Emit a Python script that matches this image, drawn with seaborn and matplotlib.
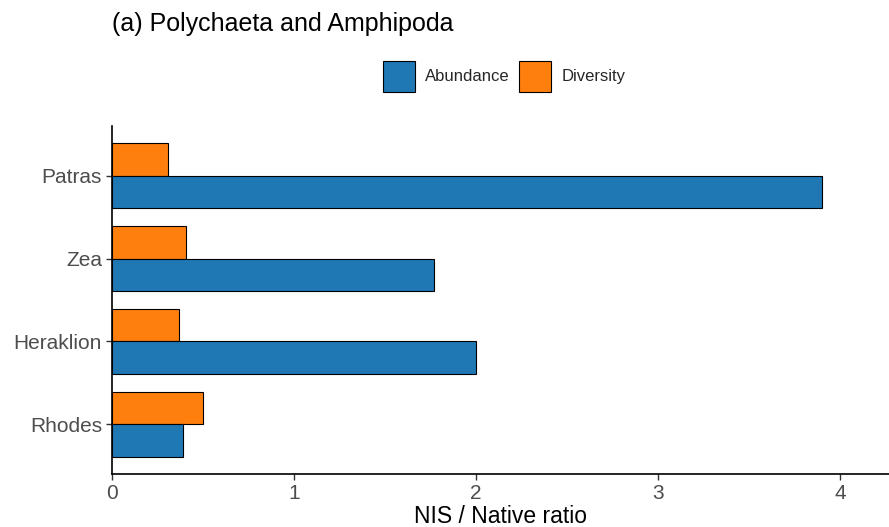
import matplotlib
matplotlib.use("Agg")
import matplotlib.pyplot as plt
from matplotlib.patches import Patch
import seaborn as sns
import pandas as pd

# Sites, top to bottom
sites = ["Patras", "Zea", "Heraklion", "Rhodes"]
abundance = [3.90, 1.77, 2.00, 0.39]
diversity = [0.31, 0.41, 0.37, 0.50]
x_ticks = [0, 1, 2, 3, 4]

df = pd.DataFrame({
    "site": sites * 2,
    "ratio": diversity + abundance,
    "metric": ["Diversity"] * len(sites) + ["Abundance"] * len(sites),
})

palette = {"Abundance": "#1F77B4", "Diversity": "#FF7F0E"}

sns.set_theme(style="ticks")
plt.rcParams["font.family"] = ["Liberation Sans", "DejaVu Sans"]

fig = plt.figure(figsize=(8.89, 5.27), dpi=100)
ax = fig.add_axes([0.1256, 0.1006, 0.8744, 0.6603])

sns.barplot(data=df, y="site", x="ratio", hue="metric", order=sites,
            hue_order=["Diversity", "Abundance"], palette=palette,
            orient="h", width=0.78, edgecolor="black", linewidth=0.8,
            saturation=1, legend=False, ax=ax)

ax.set_xlim(0, 4.27)
ax.set_ylim(3.6, -0.6)
ax.set_xticks(x_ticks)
ax.set_xticklabels([str(t) for t in x_ticks])
ax.set_xlabel("NIS / Native ratio", fontsize=16.5, color="black", labelpad=2)
ax.set_ylabel("")
ax.tick_params(axis="both", labelsize=15, labelcolor="#4D4D4D", color="#333333",
               length=4, width=1, pad=3)
for side in ["top", "right"]:
    ax.spines[side].set_visible(False)
for side in ["left", "bottom"]:
    ax.spines[side].set_linewidth(1.2)
    ax.spines[side].set_color("black")

fig.text(0.126, 0.955, "(a) Polychaeta and Amphipoda", fontsize=18,
         color="black", ha="left", va="center")

handles = [Patch(facecolor=palette[m], edgecolor="black", linewidth=0.8, label=m)
           for m in ["Abundance", "Diversity"]]
fig.legend(handles=handles, loc="center", bbox_to_anchor=(0.567, 0.855),
           ncol=2, frameon=False, fontsize=12, handlelength=1.95, handleheight=2.5,
           handletextpad=0.6, columnspacing=0.55)

fig.savefig("out.png", dpi=100)
